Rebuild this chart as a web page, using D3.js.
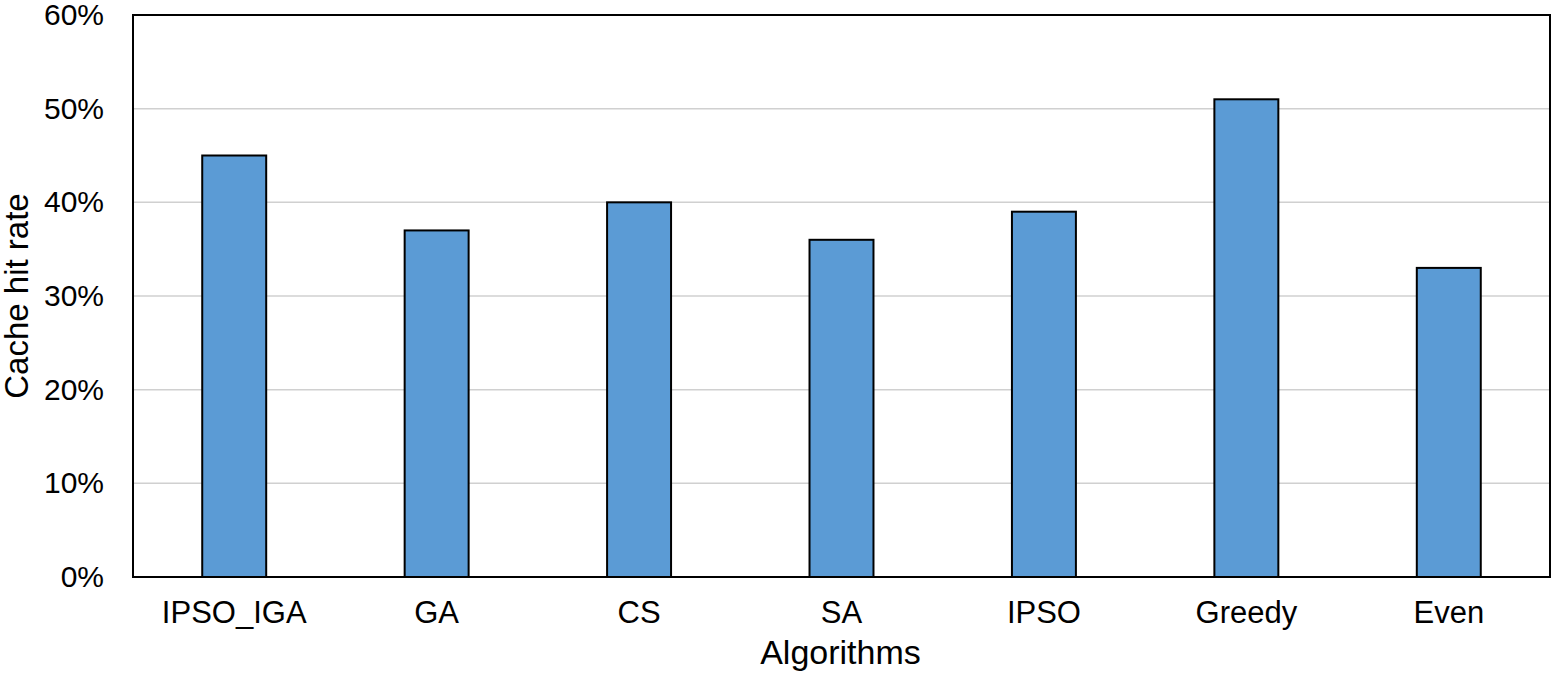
<!DOCTYPE html>
<html>
<head>
<meta charset="utf-8">
<script src="https://cdn.jsdelivr.net/npm/d3@7"></script>
<style>
  html, body { margin: 0; padding: 0; background: #fff; }
  svg text { font-family: "Liberation Sans", Arial, sans-serif; fill: #000; }
</style>
</head>
<body>
<svg id="chart" width="1555" height="679"></svg>
<script>
const categories = ["IPSO_IGA", "GA", "CS", "SA", "IPSO", "Greedy", "Even"];
const hitRates = [0.45, 0.37, 0.40, 0.36, 0.39, 0.51, 0.33];
const yTicks = [0, 0.1, 0.2, 0.3, 0.4, 0.5, 0.6];

const svg = d3.select("#chart");
const margin = { left: 133, right: 5, top: 15, bottom: 102 };
const W = 1555, H = 679;
const x0 = margin.left, x1 = W - margin.right;
const y0 = H - margin.bottom, y1 = margin.top;

const x = d3.scaleBand().domain(categories).range([x0, x1])
  .paddingInner(0.684).paddingOuter(0.342);
const y = d3.scaleLinear().domain([0, 0.6]).range([y0, y1]);

// gridlines
svg.append("g").selectAll("line").data(yTicks.filter(d => d > 0 && d < 0.6))
  .join("line")
  .attr("x1", x0).attr("x2", x1)
  .attr("y1", d => y(d)).attr("y2", d => y(d))
  .attr("stroke", "#d0d0d0").attr("stroke-width", 1.5);

// bars
svg.append("g").selectAll("rect").data(categories)
  .join("rect")
  .attr("x", d => x(d))
  .attr("width", x.bandwidth())
  .attr("y", (d, i) => y(hitRates[i]))
  .attr("height", (d, i) => y0 - y(hitRates[i]))
  .attr("fill", "#5b9bd5")
  .attr("stroke", "#000").attr("stroke-width", 2);

// frame
svg.append("rect")
  .attr("x", x0).attr("y", y1)
  .attr("width", x1 - x0).attr("height", y0 - y1)
  .attr("fill", "none").attr("stroke", "#000").attr("stroke-width", 2);

// y axis labels
const yAxis = d3.axisLeft(y).tickValues(yTicks).tickFormat(d3.format(".0%"))
  .tickSize(0).tickPadding(29);
const gy = svg.append("g").attr("transform", `translate(${x0},0)`).call(yAxis);
gy.select(".domain").remove();
gy.selectAll("text").attr("font-size", 30).attr("font-family", "Liberation Sans, Arial, sans-serif").attr("fill", "#000");

// x axis labels
const xAxis = d3.axisBottom(x).tickSize(0).tickPadding(24);
const gx = svg.append("g").attr("transform", `translate(0,${y0})`).call(xAxis);
gx.select(".domain").remove();
gx.selectAll("text").attr("font-size", 31).attr("font-family", "Liberation Sans, Arial, sans-serif").attr("fill", "#000");

// axis titles
svg.append("text")
  .attr("x", (x0 + x1) / 2 - 1).attr("y", 664)
  .attr("text-anchor", "middle").attr("font-size", 34)
  .text("Algorithms");
svg.append("text")
  .attr("transform", `translate(28,${(y0 + y1) / 2}) rotate(-90)`)
  .attr("text-anchor", "middle").attr("font-size", 33)
  .text("Cache hit rate");
</script>
</body>
</html>
